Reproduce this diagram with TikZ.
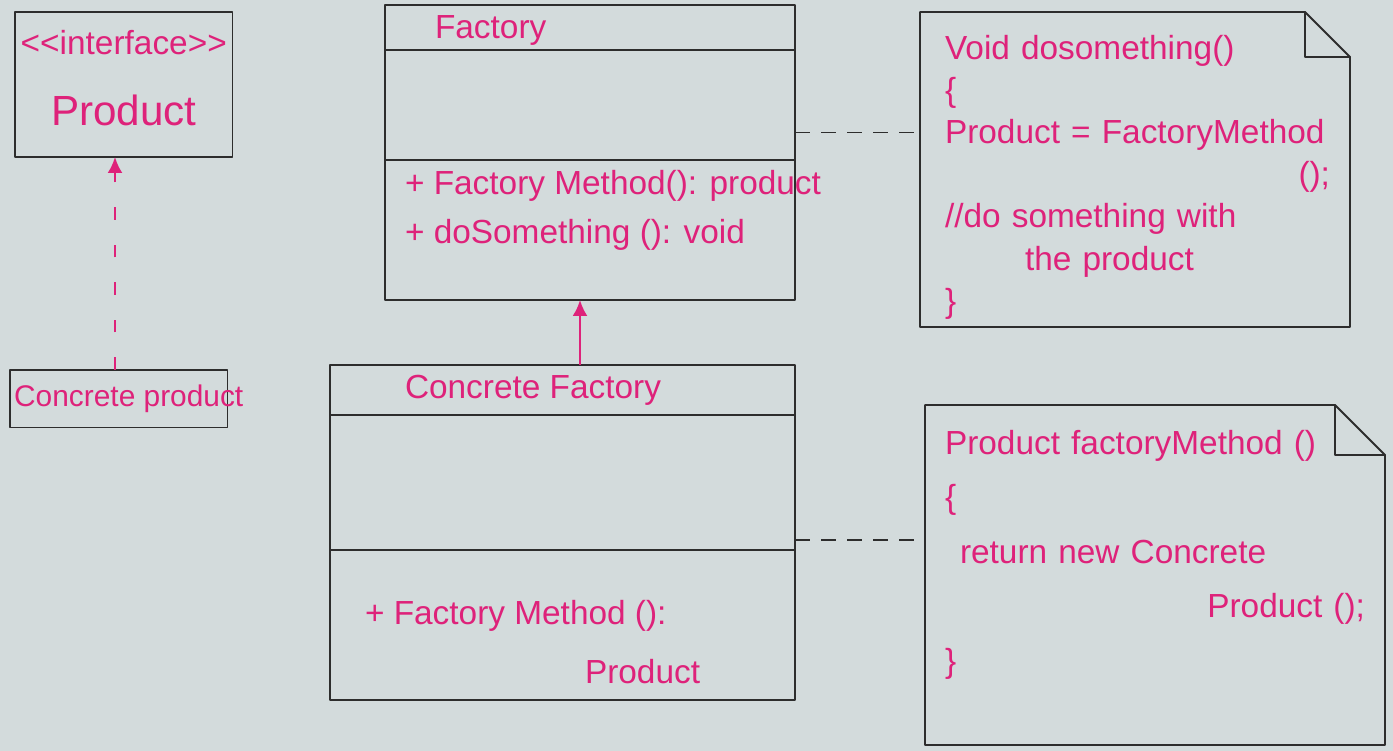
\documentclass[tikz,border=0pt]{standalone}
\usepackage{fontspec}
\setmainfont{Liberation Sans}
\usepackage{tikz}
\usetikzlibrary{arrows.meta,positioning}
\definecolor{paper}{RGB}{211,219,220}
\definecolor{ink}{RGB}{222,34,122}
\definecolor{pencil}{RGB}{45,45,45}

\begin{document}
\begin{tikzpicture}[line width=1.1pt, color=pencil, line join=round,
        every node/.append style={font=\fontsize{19}{24}\selectfont, text=ink, inner sep=0pt, outer sep=0pt},
        cpart/.style={draw=pencil, rectangle, minimum height=#1}]
  \tikzstyle{txt} = [anchor=west]
  \tikzstyle{inherit} = [draw=ink, line width=1.3pt, -{Latex[length=0.32cm, width=0.3cm]}]
  \tikzstyle{realize} = [inherit, dash pattern=on 0.25cm off 0.5cm]
  \tikzstyle{notelink} = [draw=pencil, dash pattern=on 0.3cm off 0.22cm]
  \useasboundingbox (0,0) rectangle (27.86,-15.02);
  \fill[paper] (0,0) rectangle (27.86,-15.02);

  \node (product) [draw=pencil, minimum width=4.35cm, minimum height=2.9cm, anchor=north west] at (0.3,-0.24) {};
  \node (prodstereo) [anchor=north] at ([yshift=-0.36cm]product.north) {{<}{<}interface{>}{>}};
  \node (prodname) [below=0.8cm of prodstereo, font=\fontsize{24}{28}\selectfont] {Product};

  \node (cproduct) [draw=pencil, minimum width=4.35cm, minimum height=1.15cm, anchor=north west] at (0.2,-7.4) {};
  \node (cprodname) [font=\fontsize{17}{21}\selectfont] at ([xshift=0.2cm]cproduct.center) {Concrete product};

  \node (facname) [cpart=0.9cm, minimum width=8.2cm, anchor=north west] at (7.7,-0.1) {};
  \node (facattr) [cpart=2.2cm, minimum width=8.2cm, below=0pt of facname] {};
  \node (facops) [cpart=2.8cm, minimum width=8.2cm, below=0pt of facattr] {};
  \node (factitle) [txt] at ([xshift=1cm, yshift=-0.05cm]facname.west) {Factory};
  \node (facopstext) [anchor=north west, align=left, font=\fontsize{19}{28}\selectfont]
    at ([shift={(0.4,-0.2)}]facops.north west) {+ Factory Method(): product\\+ doSomething (): void};

  \node (cfname) [cpart=1cm, minimum width=9.3cm, anchor=north west] at (6.6,-7.3) {};
  \node (cfattr) [cpart=2.7cm, minimum width=9.3cm, below=0pt of cfname] {};
  \node (cfops) [cpart=3cm, minimum width=9.3cm, below=0pt of cfattr] {};
  \node (cftitle) [txt] at ([xshift=1.5cm]cfname.west) {Concrete Factory};
  \node (cfopstext) [anchor=north west, align=left, font=\fontsize{19}{34}\selectfont]
    at ([shift={(0.7,-1)}]cfops.north west) {+ Factory Method ():\\\hspace*{4.4cm}Product};

  \node (note1) [minimum width=8.6cm, minimum height=6.3cm, anchor=north west] at (18.4,-0.24) {};
  \draw (note1.north west) -- ([xshift=-0.9cm]note1.north east) -- ([yshift=-0.9cm]note1.north east)
    -- (note1.south east) -- (note1.south west) -- cycle;
  \draw ([xshift=-0.9cm]note1.north east) -- ([shift={(-0.9,-0.9)}]note1.north east) -- ([yshift=-0.9cm]note1.north east);
  \node (note1text) [anchor=north west, align=left, text width=7.7cm]
    at ([shift={(0.5,-0.46)}]note1.north west)
    {Void dosomething()\\\{\\Product = FactoryMethod\\\hspace*{\fill}();\\//do something with\\\hspace*{1.6cm}the product\\\}};

  \node (note2) [minimum width=9.2cm, minimum height=6.8cm, anchor=north west] at (18.5,-8.1) {};
  \draw (note2.north west) -- ([xshift=-1cm]note2.north east) -- ([yshift=-1cm]note2.north east)
    -- (note2.south east) -- (note2.south west) -- cycle;
  \draw ([xshift=-1cm]note2.north east) -- ([shift={(-1,-1)}]note2.north east) -- ([yshift=-1cm]note2.north east);
  \node (note2text) [anchor=north west, align=left, text width=8.4cm, font=\fontsize{19}{31}\selectfont]
    at ([shift={(0.4,-0.5)}]note2.north west)
    {Product factoryMethod ()\\\{\\\hspace*{0.3cm}return new Concrete\\\hspace*{\fill}Product ();\\\}};

  \coordinate (inh) at (11.6,0);
  \coordinate (real) at (2.3,0);
  \draw[inherit] (cfname.north -| inh) -- (facops.south -| inh);
  \draw[realize] (cproduct.north -| real) -- (product.south -| real);
  \coordinate (link1) at ([yshift=-0.55cm]facattr.east);
  \coordinate (link2) at ([yshift=0.2cm]cfattr.south east);
  \draw[notelink] (link1) -- (link1 -| note1.west);
  \draw[notelink] (link2) -- (link2 -| note2.west);
\end{tikzpicture}
\end{document}
